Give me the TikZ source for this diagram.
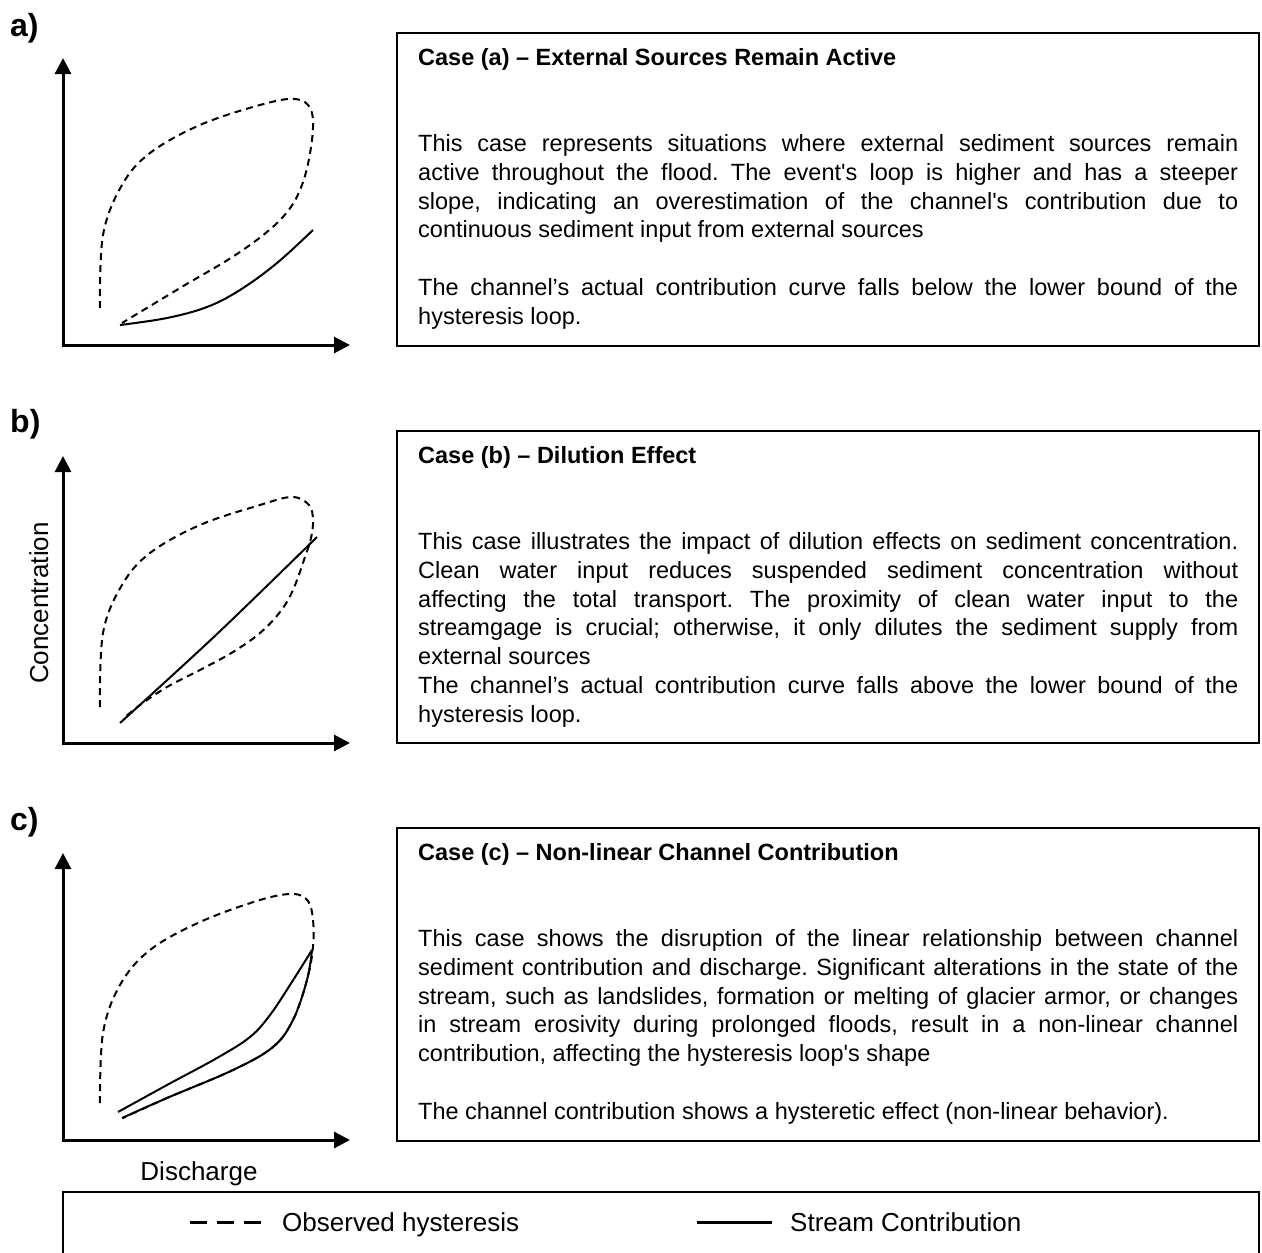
\documentclass[tikz,border=0pt]{standalone}
\usepackage{fontspec}
\setmainfont{Liberation Sans}[Ligatures=TeXOff]
\usetikzlibrary{arrows.meta}
\newcommand\jline[1]{\makebox[820pt][s]{#1}}
\begin{document}
\frenchspacing
\begin{tikzpicture}[x=1pt,y=-1pt,
  ax/.style={line width=3pt,-{Triangle[length=16pt,width=16pt]}},
  obs/.style={line width=2pt,dash pattern=on 7pt off 5pt},
  strm/.style={line width=2pt},
  box/.style={draw,line width=2pt},
  body/.style={anchor=base west,inner sep=0pt,font=\fontsize{23.5}{28}\selectfont\frenchspacing},
  ttl/.style={anchor=base west,inner sep=0pt,font=\fontsize{23.5}{28}\selectfont\bfseries},
  lbl/.style={anchor=base west,inner sep=0pt,font=\fontsize{32}{36}\selectfont\bfseries},
  axl/.style={inner sep=0pt,anchor=base,font=\fontsize{26}{30}\selectfont}]
\useasboundingbox (0,0) rectangle (1262,1253);
\clip (0,0) rectangle (1262,1253);

% panel labels
\node[lbl] (la) at (10,36) {a)};
\node[lbl] (lb) at (10,432) {b)};
\node[lbl] (lc) at (10,830) {c)};

% axes
\foreach \b in {345,743,1140}{
  \draw[ax] (63,\b+1.5) -- (63,\b-287);
  \draw[ax] (61.5,\b) -- (350,\b);
}

% panel a curves
\draw[obs] plot[smooth,tension=0.6] coordinates {(100,308) (103,235) (122,185) (150,153) (200,125) (260,105) (295,99) (311,110) (312,140) (302,185) (282,218) (240,252) (180,288) (122,323)};
\draw[strm] plot[smooth,tension=0.6] coordinates {(120,325) (167,318) (207,307) (240,290) (277,263) (313,230)};

% panel b curves
\draw[obs] plot[smooth,tension=0.6] coordinates {(100,707) (103,633) (122,585) (150,553) (200,525) (260,505) (292,497) (309,505) (313,520) (311,538) (305,557) (293,590) (280,612) (260,633) (233,652) (200,670) (167,687) (140,705) (124,718)};
\draw[strm] plot[smooth,tension=0.6] coordinates {(120,723) (217,634) (317,537)};

% panel c curves
\draw[obs] plot[smooth,tension=0.6] coordinates {(100,1103) (103,1033) (120,985) (150,950) (200,922) (260,900) (293,894) (308,901) (313,920) (313,947) (307,980) (293,1020) (273,1047) (233,1070) (167,1098) (123,1118)};
\draw[strm] plot[smooth,tension=0.6] coordinates {(118,1112) (167,1085) (217,1058) (250,1037) (270,1015) (290,985) (312,950)};
\draw[strm] plot[smooth,tension=0.6] coordinates {(122,1118) (167,1098) (233,1070) (273,1047) (293,1020) (307,980) (312,950)};

% axis labels
\node[axl,rotate=90] (yl) at (48,603) {Concentration};
\node[axl] (xl) at (199,1180) {Discharge};

% boxes
\draw[box] (397,33) rectangle (1259,346);
\draw[box] (397,431) rectangle (1259,743);
\draw[box] (397,828) rectangle (1259,1141);
\draw[box] (63,1192) rectangle (1259,1300);

% box a text
\node[ttl] (ta0) at (418,65) {Case (a) – External Sources Remain Active};
\node[body] (ta3) at (418,151.4) {\jline{This case represents situations where external sediment sources remain}};
\node[body] (ta4) at (418,180.2) {\jline{active throughout the flood. The event's loop is higher and has a steeper}};
\node[body] (ta5) at (418,209.0) {\jline{slope, indicating an overestimation of the channel's contribution due to}};
\node[body] (ta6) at (418,237.8) {continuous sediment input from external sources};
\node[body] (ta8) at (418,295.4) {\jline{The channel’s actual contribution curve falls below the lower bound of the}};
\node[body] (ta9) at (418,324.2) {hysteresis loop.};

% box b text
\node[ttl] (tb0) at (418,463) {Case (b) – Dilution Effect};
\node[body] (tb3) at (418,549.4) {\jline{This case illustrates the impact of dilution effects on sediment concentration.}};
\node[body] (tb4) at (418,578.2) {\jline{Clean water input reduces suspended sediment concentration without}};
\node[body] (tb5) at (418,607.0) {\jline{affecting the total transport. The proximity of clean water input to the}};
\node[body] (tb6) at (418,635.8) {\jline{streamgage is crucial; otherwise, it only dilutes the sediment supply from}};
\node[body] (tb7) at (418,664.6) {external sources};
\node[body] (tb8) at (418,693.4) {\jline{The channel’s actual contribution curve falls above the lower bound of the}};
\node[body] (tb9) at (418,722.2) {hysteresis loop.};

% box c text
\node[ttl] (tc0) at (418,860) {Case (c) – Non-linear Channel Contribution};
\node[body] (tc3) at (418,946.4) {\jline{This case shows the disruption of the linear relationship between channel}};
\node[body] (tc4) at (418,975.2) {\jline{sediment contribution and discharge. Significant alterations in the state of the}};
\node[body] (tc5) at (418,1004.0) {\jline{stream, such as landslides, formation or melting of glacier armor, or changes}};
\node[body] (tc6) at (418,1032.8) {\jline{in stream erosivity during prolonged floods, result in a non-linear channel}};
\node[body] (tc7) at (418,1061.6) {contribution, affecting the hysteresis loop's shape};
\node[body] (tc9) at (418,1119.2) {The channel contribution shows a hysteretic effect (non-linear behavior).};

% legend
\coordinate (d1) at (190,1222);
\coordinate (d2) at (262,1222);
\coordinate (s1) at (697,1222);
\coordinate (s2) at (772,1222);
\draw[line width=3pt,dash pattern=on 17pt off 10pt] (d1) -- (d2);
\draw[line width=3pt] (s1) -- (s2);
\node[anchor=base west,inner sep=0pt,font=\fontsize{26}{30}\selectfont] (lo) at (282,1231) {Observed hysteresis};
\node[anchor=base west,inner sep=0pt,font=\fontsize{26}{30}\selectfont] (ls) at (790,1231) {Stream Contribution};
\end{tikzpicture}
\end{document}
